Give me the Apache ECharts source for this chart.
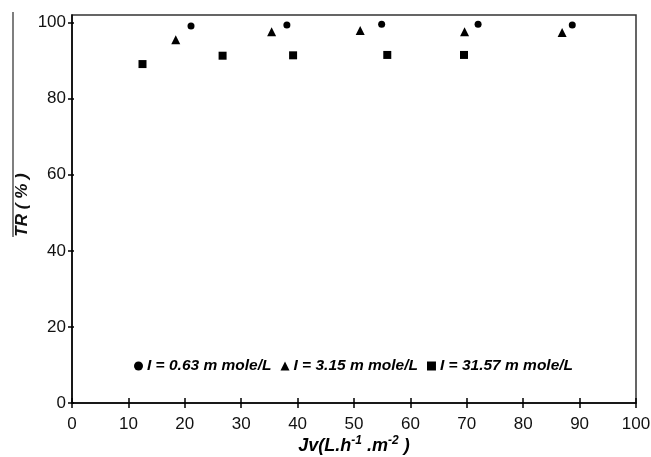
<!DOCTYPE html>
<html>
<head>
<meta charset="utf-8">
<script src="https://cdn.jsdelivr.net/npm/echarts@6/dist/echarts.min.js"></script>
<style>html,body{margin:0;padding:0;background:#fff}#c{width:651px;height:457px}</style>
</head>
<body>
<div id="c"></div>
<script>
var seriesNames = ['I = 0.63 m mole/L', 'I = 3.15 m mole/L', 'I = 31.57 m mole/L'];
var jv063 = [21.1, 38.1, 54.9, 72.0, 88.7];
var tr063 = [99.1, 99.4, 99.6, 99.6, 99.4];
var jv315 = [18.4, 35.4, 51.1, 69.6, 86.9];
var tr315 = [95.5, 97.6, 97.9, 97.6, 97.4];
var jv3157 = [12.5, 26.7, 39.2, 55.9, 69.5];
var tr3157 = [89.1, 91.3, 91.4, 91.5, 91.5];
var xTicks = [0, 10, 20, 30, 40, 50, 60, 70, 80, 90, 100];
var yTicks = [0, 20, 40, 60, 80, 100];

function pairs(xs, ys) { return xs.map(function (x, i) { return [x, ys[i]]; }); }

var chart = echarts.init(document.getElementById('c'), null, { renderer: 'canvas' });
var lblFont = { fontFamily: 'Liberation Sans, Arial, sans-serif', fontSize: 17, color: '#111' };
var axisLineStyle = { color: '#000', width: 1.5 };
var markStyle = { color: '#000', opacity: 1 };
var option = {
  backgroundColor: '#fff',
  animation: false,
  grid: { left: 72, right: 15, top: 15, bottom: 54, show: true, borderColor: '#333', borderWidth: 1.5, backgroundColor: 'transparent', outerBoundsMode: 'none', containLabel: false },
  legend: {
    left: 129, top: 353, itemWidth: 9, itemHeight: 9, itemGap: 9,
    itemStyle: { opacity: 1 },
    textStyle: { fontFamily: 'Liberation Sans, Arial, sans-serif', fontWeight: 'bold', fontStyle: 'italic', fontSize: 15.5, color: '#000', padding: [0, 0, 0, -1] },
    data: [
      { name: seriesNames[0], icon: 'circle' },
      { name: seriesNames[1], icon: 'triangle' },
      { name: seriesNames[2], icon: 'rect' }
    ]
  },
  xAxis: [{
    type: 'value', min: 0, max: 100, interval: 10, position: 'bottom',
    axisLine: { show: true, onZero: false, lineStyle: axisLineStyle },
    axisTick: { show: true, length: 5, lineStyle: axisLineStyle, customValues: xTicks },
    axisLabel: Object.assign({ margin: 13, customValues: xTicks }, lblFont),
    splitLine: { show: false },
    name: 'Jv(L.h{sup|-1} .m{sup|-2} )',
    nameLocation: 'middle', nameGap: 32, nameMoveOverlap: false,
    nameTextStyle: {
      fontFamily: 'Liberation Sans, Arial, sans-serif', fontWeight: 'bold', fontStyle: 'italic', fontSize: 18, color: '#000', lineHeight: 22,
      rich: { sup: { fontSize: 12, fontWeight: 'bold', fontStyle: 'italic', verticalAlign: 'top', lineHeight: 12, color: '#000', fontFamily: 'Liberation Sans, Arial, sans-serif' } }
    }
  }, {
    type: 'value', min: 0, max: 100, interval: 10, position: 'bottom',
    axisLine: { show: false, onZero: false },
    axisTick: { show: true, inside: true, length: 5, lineStyle: axisLineStyle, customValues: xTicks },
    axisLabel: { show: false }, splitLine: { show: false }
  }],
  yAxis: [{
    type: 'value', min: 0, max: 102, interval: 20, position: 'left',
    axisLine: { show: true, onZero: false, lineStyle: axisLineStyle },
    axisTick: { show: true, length: 4, lineStyle: axisLineStyle, customValues: yTicks },
    axisLabel: Object.assign({ margin: 6, customValues: yTicks }, lblFont),
    splitLine: { show: false },
    name: 'TR ( % )', nameLocation: 'middle', nameGap: 41, nameRotate: 90, nameMoveOverlap: false,
    nameTextStyle: { fontFamily: 'Liberation Sans, Arial, sans-serif', fontWeight: 'bold', fontStyle: 'italic', fontSize: 17, color: '#111', padding: [0, 0, 0, 8] }
  }, {
    type: 'value', min: 0, max: 102, interval: 20, position: 'left',
    axisLine: { show: false, onZero: false },
    axisTick: { show: true, inside: true, length: 2, lineStyle: axisLineStyle, customValues: yTicks },
    axisLabel: { show: false }, splitLine: { show: false }
  }],
  graphic: [{
    type: 'line', shape: { x1: 13, y1: 12, x2: 13, y2: 237 },
    style: { stroke: '#555', lineWidth: 1.5 }, silent: true
  }],
  series: [
    { name: seriesNames[0], type: 'scatter', symbol: 'circle', symbolSize: 7, itemStyle: markStyle, data: pairs(jv063, tr063) },
    { name: seriesNames[1], type: 'scatter', symbol: 'triangle', symbolSize: 9, itemStyle: markStyle, data: pairs(jv315, tr315) },
    { name: seriesNames[2], type: 'scatter', symbol: 'rect', symbolSize: 8, itemStyle: markStyle, data: pairs(jv3157, tr3157) }
  ]
};
chart.setOption(option);
</script>
</body>
</html>
